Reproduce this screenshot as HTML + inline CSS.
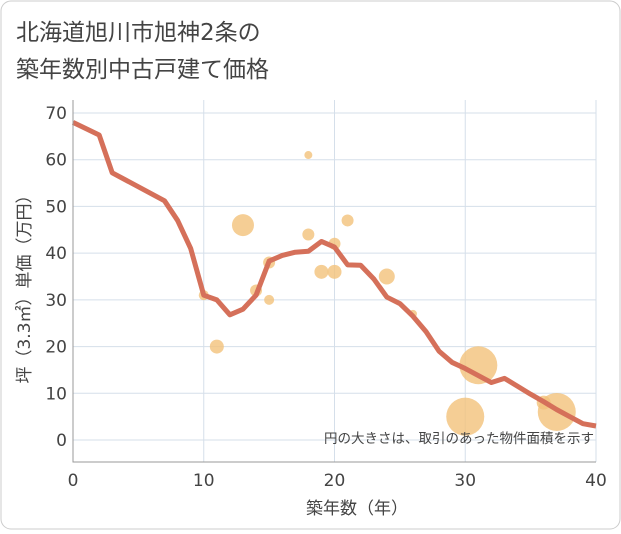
<!DOCTYPE html>
<html><head><meta charset="utf-8"><style>
body{margin:0;background:#fff;font-family:"DejaVu Sans","Noto Sans CJK JP",sans-serif}
#c{width:621px;height:530px;position:relative}
</style></head><body>
<div id="c">
<svg width="621" height="530" id="svg">
<rect x="1" y="1" width="619" height="528" rx="10" fill="#fff" stroke="#ccc"/>
<text x="16" y="40" font-size="23" fill="#444">北海道旭川市旭神2条の</text>
<text x="16" y="77" font-size="23" fill="#444">築年数別中古戸建て価格</text>
<g id="grid"></g><g id="bubbles"></g><g id="line"></g><g id="axes"></g>
<text x="594" y="443" font-size="13.5" fill="#444" text-anchor="end">円の大きさは、取引のあった物件面積を示す</text>
<text x="357" y="514" font-size="17" fill="#444" text-anchor="middle">築年数（年）</text>
<text transform="translate(30,285) rotate(-90)" font-size="17" fill="#444" text-anchor="middle">坪（3.3㎡）単価（万円）</text>
</svg></div>
<script>
const lineX=[0,2,3,7,8,9,10,11,12,13,14,15,16,17,18,19,20,21,22,23,24,25,26,27,28,29,30,31,32,33,34,35,36,37,38,39,40];
const lineY=[68,65.3,57.2,51.2,47,41,31,30,26.8,28,31,38.3,39.5,40.2,40.4,42.5,41.3,37.5,37.4,34.5,30.6,29.2,26.5,23.2,19,16.6,15.3,13.8,12.3,13.2,11.5,9.8,8.2,6.5,5,3.5,3];
const bubX=[10,11,13,14,15,15,18,18,19,20,20,21,24,26,30,31,36,37];
const bubY=[31,20,46,32,38,30,61,44,36,42,36,47,35,27,5,16,8,6];
const bubR=[5,7,11,6,6,5,4,6,7,6,7,6,8,4,19,19,7,19];
const xTicks=[0,10,20,30,40];
const yTicks=[0,10,20,30,40,50,60,70];
const L=73,R=596,T=100,B=462;
const sx=v=>L+v*(R-L)/40, sy=v=>440-v*(440-113)/70;
const NS="http://www.w3.org/2000/svg";
function mk(p,t,a){const e=document.createElementNS(NS,t);for(const k in a)e.setAttribute(k,a[k]);document.getElementById(p).appendChild(e);return e;}
yTicks.forEach(v=>{const g=mk('grid','line',{x1:L,x2:R,y1:sy(v),y2:sy(v),stroke:'#d5dfea','stroke-width':1});


const t=mk('axes','text',{x:L-6,y:sy(v)+6,'font-size':17,fill:'#444','text-anchor':'end'});t.textContent=v;

});
xTicks.forEach(v=>{const g=mk('grid','line',{x1:sx(v),x2:sx(v),y1:T,y2:B,stroke:'#d5dfea','stroke-width':1});


const t=mk('axes','text',{x:sx(v),y:B+24,'font-size':17,fill:'#444','text-anchor':'middle'});t.textContent=v;

});
const ax=mk('axes','path',{d:`M${L},${T}V${B}H${R}`,stroke:'#999',fill:'none'});


bubX.forEach((v,i)=>{const c=mk('bubbles','circle',{cx:sx(v),cy:sy(bubY[i]),r:bubR[i],fill:'#f3c27a','fill-opacity':0.8});

});
const p=mk('line','polyline',{points:lineX.map((v,i)=>sx(v)+','+sy(lineY[i])).join(' '),fill:'none',stroke:'#d5705a','stroke-width':5,'stroke-linejoin':'round'});


</script></body></html>
